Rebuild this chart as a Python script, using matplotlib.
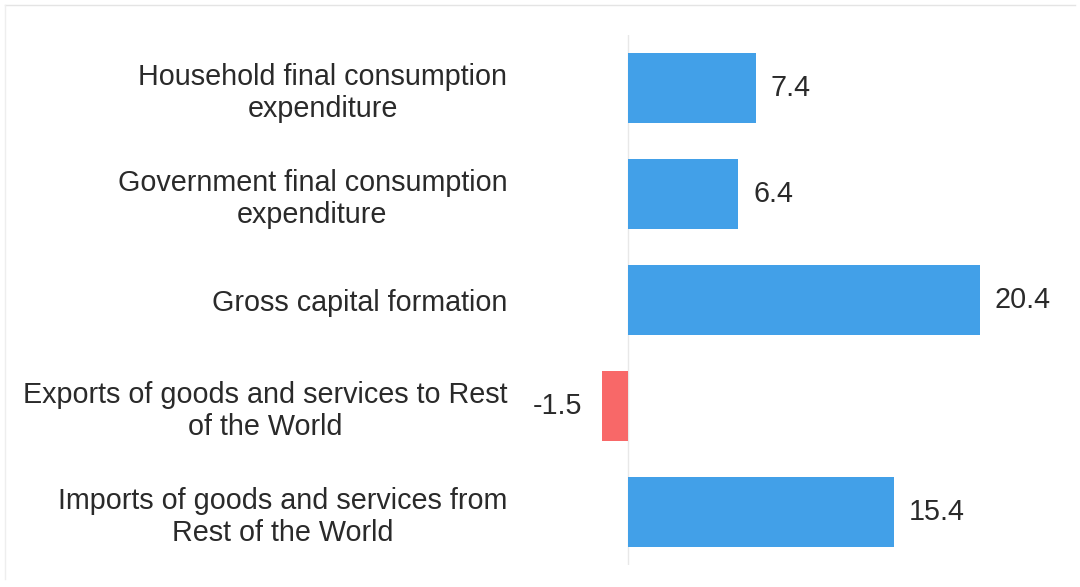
import matplotlib
matplotlib.use("Agg")
import matplotlib.pyplot as plt
from matplotlib.lines import Line2D

categories = [
    "Household final consumption\nexpenditure",
    "Government final consumption\nexpenditure",
    "Gross capital formation",
    "Exports of goods and services to Rest\nof the World",
    "Imports of goods and services from\nRest of the World",
]
values = [7.4, 6.4, 20.4, -1.5, 15.4]
value_labels = ["7.4", "6.4", "20.4", "-1.5", "15.4"]

plt.rcParams['font.family'] = ['Liberation Sans', 'DejaVu Sans']

W, H = 1080, 587
fig = plt.figure(figsize=(W / 100, H / 100), dpi=100)
fig.patch.set_facecolor('white')
ax = fig.add_axes([560 / W, (H - 565) / H, 500 / W, 530 / H])

blue = '#42a0e8'
red = '#f86868'
colors = [blue if v >= 0 else red for v in values]
ypos = list(range(len(categories)))
ax.barh(ypos, values, height=0.66, color=colors, zorder=2)

ax.set_xlim(-3.94, 25.04)
ax.set_ylim(4.5, -0.5)
ax.set_yticks(ypos)
ax.set_yticklabels(categories, fontsize=20.7, color='#2a2a2a', linespacing=1.17)
for lbl in ax.get_yticklabels():
    lbl.set_ha('right')
    lbl.set_multialignment('center')
ax.tick_params(axis='y', length=0, pad=38)
ax.set_xticks([])
for s in ax.spines.values():
    s.set_visible(False)
ax.axvline(0, color='#e8e8e8', lw=1, zorder=1)

for y, v, t in zip(ypos, values, value_labels):
    if v >= 0:
        ax.annotate(t, (v, y), xytext=(15, 0), textcoords='offset pixels',
                    ha='left', va='center', fontsize=20.7, color='#2a2a2a')
    else:
        ax.annotate(t, (v, y), xytext=(-20, 0), textcoords='offset pixels',
                    ha='right', va='center', fontsize=20.7, color='#2a2a2a')

# faint frame lines
fig.add_artist(Line2D([5 / W, 1 - 5 / W], [1 - 5 / H, 1 - 5 / H], transform=fig.transFigure, color='#e4e4e4', lw=1))
fig.add_artist(Line2D([5 / W, 5 / W], [8 / H, 1 - 5 / H], transform=fig.transFigure, color='#eeeeee', lw=1))

fig.savefig("out.png", dpi=100)
